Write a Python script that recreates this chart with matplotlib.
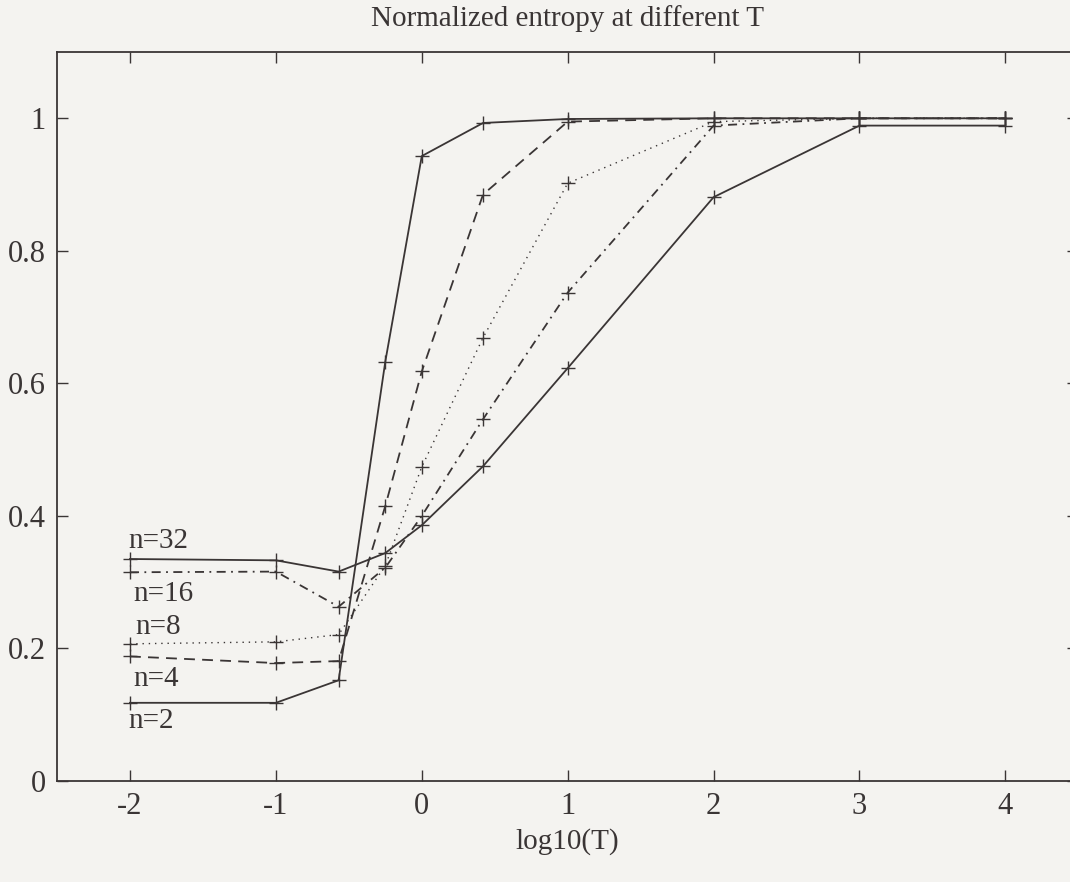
import matplotlib
matplotlib.use("Agg")
import matplotlib.pyplot as plt

# log10(T) sample points shared by every curve
log_t = [-2, -1, -0.57, -0.25, 0, 0.42, 1, 2, 3, 4]

# normalized entropy for each n
h_n2 = [0.118, 0.118, 0.152, 0.633, 0.943, 0.993, 0.999, 1.0, 1.0, 1.0]
h_n4 = [0.188, 0.178, 0.181, 0.415, 0.618, 0.885, 0.995, 1.0, 1.0, 1.0]
h_n8 = [0.207, 0.210, 0.221, 0.325, 0.474, 0.669, 0.902, 0.995, 1.0, 1.0]
h_n16 = [0.315, 0.316, 0.263, 0.322, 0.400, 0.546, 0.737, 0.989, 1.0, 1.0]
h_n32 = [0.335, 0.333, 0.316, 0.344, 0.386, 0.475, 0.623, 0.881, 0.989, 0.989]

labels = ["n=32", "n=16", "n=8", "n=4", "n=2"]
label_y = [0.362, 0.282, 0.232, 0.154, 0.090]
label_x = [-2.01, -1.98, -1.96, -1.98, -2.01]

xticks = [-2, -1, 0, 1, 2, 3, 4]
yticks = [0, 0.2, 0.4, 0.6, 0.8, 1]
ytick_labels = ["0", "0.2", "0.4", "0.6", "0.8", "1"]

ink = "#3a3535"
bg = "#f4f3f0"
plt.rcParams["font.family"] = ["Liberation Serif", "DejaVu Serif"]

fig = plt.figure(figsize=(10.7, 8.82), dpi=100, facecolor=bg)
ax = fig.add_axes([0.0533, 0.1145, 0.9545, 0.8265], facecolor=bg)

common = dict(color=ink, marker="+", markersize=10, markeredgewidth=1.0)
ax.plot(log_t, h_n2, linestyle="-", linewidth=1.3, **common)
ax.plot(log_t, h_n4, linestyle=(0, (6, 4)), linewidth=1.3, **common)
ax.plot(log_t, h_n8, linestyle=(0, (1, 3.5)), linewidth=1.0, **common)
ax.plot(log_t, h_n16, linestyle=(0, (5, 3, 1, 3)), linewidth=1.3, **common)
ax.plot(log_t, h_n32, linestyle="-", linewidth=1.3, **common)

for txt, lx, ly in zip(labels, label_x, label_y):
    ax.text(lx, ly, txt, fontsize=21, color=ink, va="center", ha="left")

ax.set_xlim(-2.5, 4.5)
ax.set_ylim(0, 1.1)
ax.set_xticks(xticks)
ax.set_xticklabels([str(t) for t in xticks])
ax.set_yticks(yticks)
ax.set_yticklabels(ytick_labels)
ax.tick_params(direction="in", length=8, width=1.0, color=ink, labelcolor=ink,
               labelsize=22, top=True, right=True, pad=8)
for sp in ax.spines.values():
    sp.set_color(ink)
    sp.set_linewidth(1.3)
ax.spines["right"].set_visible(False)

ax.set_title("Normalized entropy at different T", fontsize=21, color=ink, pad=19)
ax.set_xlabel("log10(T)", fontsize=21, color=ink, labelpad=5)

fig.savefig("out.png", dpi=100, facecolor=bg)
